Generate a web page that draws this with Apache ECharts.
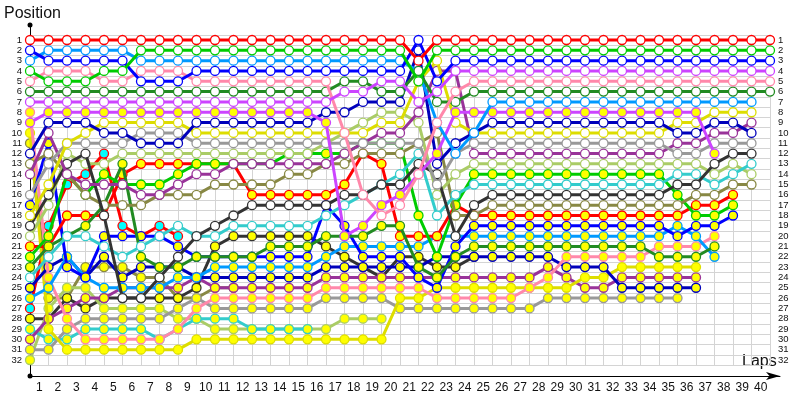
<!DOCTYPE html>
<html><head><meta charset="utf-8">
<script src="https://cdn.jsdelivr.net/npm/echarts@6/dist/echarts.min.js"></script>
<style>html,body{margin:0;padding:0;background:#fff}#c{width:800px;height:400px}</style>
</head><body><div id="c"></div>
<script>
// Tick labels
const lapLabels = ['1','2','3','4','5','6','7','8','9','10','11','12','13','14','15','16','17','18','19','20','21','22','23','24','25','26','27','28','29','30','31','32','33','34','35','36','37','38','39','40'];
const posLabels = ['1','2','3','4','5','6','7','8','9','10','11','12','13','14','15','16','17','18','19','20','21','22','23','24','25','26','27','28','29','30','31','32'];

// Positions per lap (lap 0 = start) for every car
const pRed      = [1,1,1,1,1,1,1,1,1,1, 1,1,1,1,1,1,1,1,1,1, 1,3,1,1,1,1,1,1,1,1, 1,1,1,1,1,1,1,1,1,1, 1];
const pGreen    = [4,5,5,5,4,4,2,2,2,2, 2,2,2,2,2,2,2,2,2,2, 2,5,2,2,2,2,2,2,2,2, 2,2,2,2,2,2,2,2,2,2, 2];
const pBlue     = [2,3,3,3,3,3,5,5,5,4, 4,4,4,4,4,4,4,4,4,4, 4,1,5,3,3,3,3,3,3,3, 3,3,3,3,3,3,3,3,3,3, 3];
const pMagenta  = [7,7,7,7,7,7,7,7,7,7, 7,7,7,7,7,7,7,6,6,5, 5,7,6,4,4,4,4,4,4,4, 4,4,4,4,4,4,4,4,4,4, 4];
const pPink     = [5,4,4,4,5,5,4,4,4,5, 5,5,5,5,5,5,5,10,16,18, 17,14,9,6,5,5,5,5,5,5, 5,5,5,5,5,5,5,5,5,5, 5];
const pDkGreen  = [6,6,6,6,6,6,6,6,6,6, 6,6,6,6,6,6,6,5,5,6, 6,4,7,7,6,6,6,6,6,6, 6,6,6,6,6,6,6,6,6,6, 6];
const pLtBlue   = [3,2,2,2,2,2,3,3,3,3, 3,3,3,3,3,3,3,3,3,3, 3,4,9,12,10,7,7,7,7,7, 7,7,7,7,7,7,7,7,7,7];
const pMagenta2 = [9,8,8,8,8,8,8,8,8,8, 8,8,8,8,8,8,9,20,19,17, 16,14,12,8,8,8,8,8,8,8, 8,8,8,8,8,8,8,12];
const pNavy     = [12,9,9,9,10,10,11,11,11,9, 9,9,9,9,9,9,8,8,7,7, 7,2,13,11,10,9,9,9,9,9, 9,9,9,9,9,10,10,9,9,10];
const pYellow   = [18,15,11,10,9,9,9,9,9,10, 10,10,10,10,10,10,10,10,10,9, 9,5,3,9,10,10,10,10,10,10, 10,10,10,10,10,9,9,8,8,8];
const pGray     = [16,13,11,11,11,11,10,10,10,11, 11,11,11,11,11,11,11,11,11,11, 11,11,15,12,11,11,11,11,11,11, 11,11,11,11,11,12,12,11,11,11];
const pPurple   = [14,10,14,15,15,15,16,16,15,14, 14,13,13,13,13,13,13,12,11,10, 10,8,4,4,12,12,12,12,12,12, 12,12,12,12,12,11,11,10,10,9];
const pBlack    = [19,16,13,12,18,26,26,24,22,20, 19,18,17,17,17,17,17,16,16,15, 15,13,14,20,17,16,16,16,16,16, 16,16,16,16,16,15,15,13,12,12];
const pTurq     = [24,22,20,20,21,22,21,20,19,20, 20,19,19,19,19,19,18,17,16,15, 14,12,18,16,15,15,15,15,15,15, 15,15,15,15,15,14,14,15,14,13];
const pLtGreen  = [20,17,12,13,13,12,12,12,12,12, 12,12,12,12,12,12,11,10,9,8, 8,9,16,14,13,13,13,13,13,13, 13,13,13,13,13,13,13,14,13,14];
const pOlive    = [13,12,14,16,17,17,17,16,16,16, 15,15,15,15,14,14,13,13,12,12, 12,11,10,18,18,17,17,17,17,17, 17,17,17,17,17,17,16,16,15,15];
const pGreen2   = [22,20,14,16,14,15,15,15,14,13, 13,13,13,13,12,12,12,12,11,11, 11,18,22,17,14,14,14,14,14,14, 14,14,14,14,14,16,18,18,17];
const pDkGreen2 = [23,21,20,19,17,13,22,23,23,22, 22,22,22,21,21,21,20,20,20,19, 19,23,24,22,21,21,21,21,21,21, 21,21,21,21,22,22,22,21];
const pRed2     = [21,21,18,18,18,14,13,13,13,13, 13,13,16,16,16,16,16,15,12,13, 20,20,20,17,18,18,18,18,18,18, 18,18,18,18,18,18,17,17,16];
const pBlue2    = [17,11,23,24,20,20,20,20,21,22, 22,22,22,22,22,22,17,19,22,22, 22,24,25,21,19,19,19,19,19,19, 19,19,19,19,19,20,19,19,18];
const pLtBlue2  = [26,25,22,24,25,25,25,25,24,24, 23,23,23,23,23,23,22,21,21,21, 21,21,20,20,20,20,20,20,20,20, 20,20,20,20,20,19,20,22];
const pPink2    = [8,24,28,30,30,30,30,30,29,27, 26,26,26,26,26,26,25,25,25,25, 25,25,26,26,26,26,26,25,24,22, 22,22,22,22,21,21,21,20];
const pNavy2    = [25,23,22,24,22,24,23,23,23,24, 24,24,24,24,24,24,23,23,23,23, 23,23,22,22,22,22,22,22,22,23, 23,23,25,25,25,25,25];
const pYellow2  = [10,29,31,31,31,31,31,31,31,30, 30,30,30,30,30,30,30,30,30,30, 26,26,25,25,25,25,25,25,25,25, 24,24,23,23,23,23,23];
const pPurple2  = [30,28,27,26,26,25,25,25,25,24, 25,25,25,25,25,25,24,24,24,24, 24,24,24,24,24,24,24,24,23,24, 25,25,24,24,24,24,24];
const pGray2    = [31,31,29,28,28,28,28,28,27,26, 27,27,27,27,27,27,26,26,26,26, 27,27,27,27,27,27,27,27,26,26, 26,26,26,26,26,26];
const pRed3     = [27,19,15,14,12,19,20,19,20];
const pTurq2    = [29,30,30,29,29,29,29,30,29,28, 28,28,29,29,29,29];
const pLtGreen2 = [32,27,25,25,27,27,27,27,28,28, 29,29,29,29,29,29,29,28,28,28];
const pBlack2   = [28,28,26,27,26,26,26,26,26,25, 21,20,20,20,20,20,21,22,23,24, 22,22,23,23,22];
const pOlive2   = [11,26,26,23,23,23,24,24,26,26, 25,25];

const carPositions = [pOlive2,pBlack2,pLtGreen2,pTurq2,pRed3,pGray2,pPurple2,pYellow2,pNavy2,pPink2,pLtBlue2,pBlue2,pRed2,pDkGreen2,pGreen2,
  pOlive,pLtGreen,pTurq,pBlack,pPurple,pGray,pYellow,pNavy,pMagenta2,pLtBlue,pDkGreen,pPink,pMagenta,pBlue,pGreen,pRed];
const carColors = ['#888844','#333333','#aacc66','#33cccc','#ff0000','#999999','#993399','#dddd00','#0000bb','#ff88aa','#0099ff','#0000ff','#ff0000','#228b22','#00cc00',
  '#888844','#aacc66','#33cccc','#333333','#993399','#999999','#dddd00','#0000bb','#cc44ff','#0099ff','#228b22','#ff88aa','#cc44ff','#0000ff','#00cc00','#ff0000'];
const carFills = ['#ffff00','#ffff00','#ffff00','#ffff00','#00ffff','#ffff00','#ffff00','#ffff00','#ffff00','#ffff00','#ffff00','#ffff00','#ffff00','#ffff00','#ffff00',
  '#ffffff','#ffffff','#ffffff','#ffffff','#ffffff','#ffffff','#ffffff','#ffffff','#ffff00','#ffffff','#ffffff','#ffffff','#ffffff','#ffffff','#ffffff','#ffffff'];

const series = carPositions.map((arr, i) => {
  const pts = [];
  arr.forEach((p, lap) => { if (p != null) pts.push([lap, p - 1]); });
  return {
    type: 'line', xAxisIndex: 0, yAxisIndex: 0, data: pts,
    symbol: 'circle', symbolSize: 9, showAllSymbol: true,
    lineStyle: { color: carColors[i], width: 3 },
    itemStyle: { color: carFills[i], borderColor: carColors[i], borderWidth: 1.3 },
    emphasis: { disabled: true }, silent: true, z: 2 + i
  };
});

const chart = echarts.init(document.getElementById('c'), null, { renderer: 'canvas' });
const gridLine = { show: true, lineStyle: { color: '#d4d4d4', width: 1 } };
chart.setOption({
  animation: false,
  backgroundColor: '#ffffff',
  grid: [
    { left: 30, right: 30, top: 34.84, bottom: 34.84 },
    { left: 30, right: 20, top: 25, bottom: 24 }
  ],
  xAxis: [
    { type: 'value', gridIndex: 0, min: 0, max: 40, position: 'top', show: false },
    { type: 'category', gridIndex: 0, data: lapLabels, boundaryGap: true, position: 'bottom',
      axisLine: { show: false }, axisTick: { show: false }, splitLine: Object.assign({ interval: 0 }, gridLine),
      axisLabel: { interval: 0, margin: 17, fontSize: 12, color: '#111', fontFamily: 'Liberation Sans' } },
    { type: 'value', gridIndex: 1, min: 0, max: 1, splitLine: { show: false }, axisTick: { show: false }, axisLabel: { show: false },
      axisLine: { show: true, onZero: false, symbol: ['none', 'arrow'], symbolSize: [6, 14], lineStyle: { color: '#000', width: 1 } } }
  ],
  yAxis: [
    { type: 'category', gridIndex: 0, data: posLabels, inverse: true, boundaryGap: true, position: 'left',
      axisLine: { show: false }, axisTick: { show: false }, splitLine: Object.assign({ interval: 0 }, gridLine),
      axisLabel: { interval: 0, margin: 8, fontSize: 9.5, color: '#111', fontFamily: 'Liberation Sans' } },
    { type: 'category', gridIndex: 0, data: posLabels, inverse: true, boundaryGap: true, position: 'right',
      axisLine: { show: false }, axisTick: { show: false }, splitLine: { show: false },
      axisLabel: { interval: 0, margin: 8, fontSize: 9.5, color: '#111', fontFamily: 'Liberation Sans' } },
    { type: 'value', gridIndex: 1, min: 0, max: 1, splitLine: { show: false }, axisTick: { show: false }, axisLabel: { show: false },
      axisLine: { show: true, onZero: false, symbol: ['circle', 'circle'], symbolSize: [5, 5], lineStyle: { color: '#000', width: 1 } } }
  ],
  graphic: [
    { type: 'text', left: 4, top: 6, style: { text: 'Position', fontSize: 16, fontFamily: 'Liberation Sans', fill: '#111' } },
    { type: 'text', left: 742, top: 354, style: { text: 'Laps', fontSize: 16, fontFamily: 'Liberation Sans', fill: '#111' } }
  ],
  series: series
});
</script></body></html>
